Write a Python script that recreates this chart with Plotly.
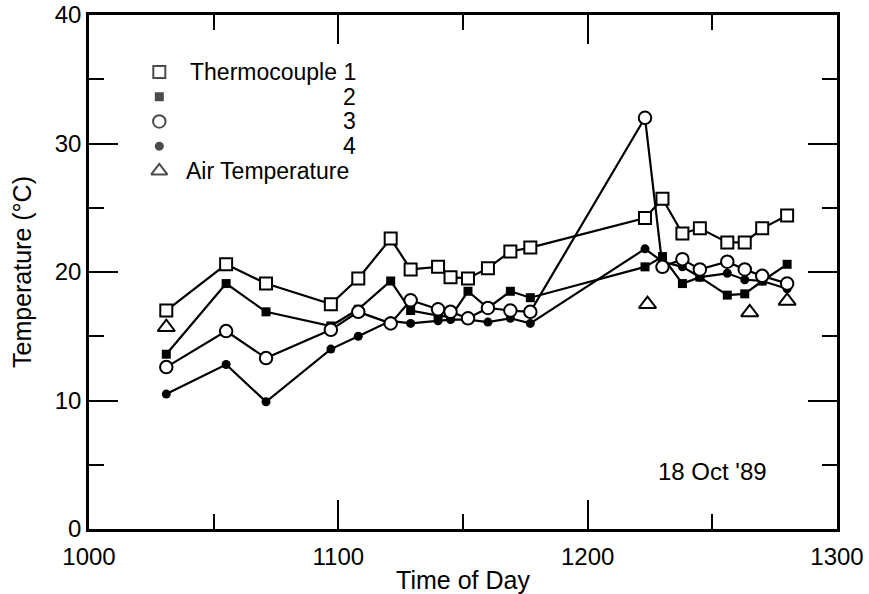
import plotly.graph_objects as go

# Sampling times (hhmm) and temperatures (°C)
times = [1031, 1055, 1071, 1097, 1108, 1121, 1129, 1140, 1145, 1152, 1160, 1169, 1177,
         1223, 1230, 1238, 1245, 1256, 1263, 1270, 1280]
tc1 = [17.0, 20.6, 19.1, 17.5, 19.5, 22.6, 20.2, 20.4, 19.6, 19.5, 20.3, 21.6, 21.9,
       24.2, 25.7, 23.0, 23.4, 22.3, 22.3, 23.4, 24.4]
tc2 = [13.6, 19.1, 16.9, 15.8, 17.1, 19.3, 17.0, 16.6, 16.5, 18.5, 17.2, 18.5, 18.0,
       20.4, 21.2, 19.1, 19.6, 18.2, 18.3, 19.3, 20.6]
tc3 = [12.6, 15.4, 13.3, 15.5, 16.9, 16.0, 17.8, 17.1, 16.9, 16.4, 17.2, 17.0, 16.9,
       32.0, 20.4, 21.0, 20.2, 20.8, 20.2, 19.7, 19.1]
tc4 = [10.5, 12.8, 9.9, 14.0, 15.0, 16.2, 16.0, 16.2, 16.3, 16.3, 16.1, 16.4, 16.0,
       21.8, 20.8, 20.4, 19.6, 19.9, 19.4, 19.3, 18.7]
air_times = [1031, 1224, 1265, 1280]
air_temp = [15.7, 17.5, 16.85, 17.75]

legend_labels = ["Thermocouple 1", "2", "3", "4", "Air Temperature"]
x_ticks = [1000, 1100, 1200, 1300]
y_ticks = [0, 10, 20, 30, 40]

FONT = "Liberation Sans, Arial, Helvetica, sans-serif"
BLACK = "black"
TXT = 24
KEY_TXT = 23
TITLE = 25

open_sq = dict(symbol="square", size=12, color="white", line=dict(color=BLACK, width=2))
fill_sq = dict(symbol="square", size=9, color=BLACK, line=dict(color=BLACK, width=0))
open_ci = dict(symbol="circle", size=12.5, color="white", line=dict(color=BLACK, width=2))
fill_ci = dict(symbol="circle", size=9, color=BLACK, line=dict(color=BLACK, width=0))
open_tri = dict(symbol="triangle-up", size=15, color="white", line=dict(color=BLACK, width=2))

fig = go.Figure()

for vals, mk in [(tc4, fill_ci), (tc2, fill_sq), (tc3, open_ci), (tc1, open_sq)]:
    fig.add_trace(go.Scatter(
        x=times, y=vals, mode="lines+markers",
        line=dict(color=BLACK, width=2.2),
        marker=mk, showlegend=False, cliponaxis=False,
    ))

fig.add_trace(go.Scatter(
    x=air_times, y=air_temp, mode="markers", marker=open_tri,
    showlegend=False, cliponaxis=False,
))

# Key symbols, placed in plot-area fractions on an overlay axis pair
key_x = 0.094
key_top, key_step = 0.8891, 0.0481
key_y = [key_top - i * key_step for i in range(len(legend_labels))]
keys = [open_sq, fill_sq, open_ci, fill_ci, open_tri]
fig.add_trace(go.Scatter(
    x=[key_x] * len(keys), y=key_y, mode="markers", xaxis="x2", yaxis="y2",
    marker=dict(
        symbol=[k["symbol"] for k in keys],
        size=[k["size"] - (1 if k["symbol"] == "triangle-up" else 0) for k in keys],
        color=[k["color"] for k in keys],
        line=dict(color=BLACK, width=[k["line"]["width"] for k in keys]),
    ),
    showlegend=False, hoverinfo="skip",
))

annotations = []
for i, lab in enumerate(legend_labels):
    last = i == len(legend_labels) - 1
    annotations.append(dict(
        x=0.127 if last else 0.3596, y=key_y[i], xref="paper", yref="paper",
        text=lab, showarrow=False, xanchor="left" if last else "right", yanchor="middle",
        font=dict(family=FONT, size=KEY_TXT, color=BLACK),
    ))

annotations.append(dict(x=1250, y=4.45, xref="x", yref="y", text="18 Oct '89",
                        showarrow=False, xanchor="center", yanchor="middle",
                        font=dict(family=FONT, size=TXT, color=BLACK)))

axis_common = dict(
    showline=True, linecolor=BLACK, linewidth=2.5, mirror="ticks",
    ticks="inside", ticklen=29, tickwidth=2, tickcolor=BLACK,
    showgrid=False, zeroline=False, automargin=False,
    tickfont=dict(family=FONT, size=TXT, color=BLACK),
)

fig.update_layout(
    width=869, height=594,
    margin=dict(l=89, r=32, t=15, b=65),
    paper_bgcolor="white", plot_bgcolor="white",
    font=dict(family=FONT, size=TXT, color=BLACK),
    xaxis=dict(
        range=[1000, 1300], tickvals=x_ticks, ticktext=[str(v) for v in x_ticks],
        minor=dict(dtick=50, tick0=1000, ticks="inside", ticklen=15, tickwidth=2, tickcolor=BLACK),
        title=dict(text="Time of Day", font=dict(family=FONT, size=TITLE, color=BLACK), standoff=3),
        ticklabelstandoff=4,
        **axis_common,
    ),
    yaxis=dict(
        range=[0, 40], tickvals=y_ticks, ticktext=[str(v) for v in y_ticks],
        minor=dict(dtick=5, tick0=0, ticks="inside", ticklen=15, tickwidth=2, tickcolor=BLACK),
        title=dict(text="Temperature (°C)", font=dict(family=FONT, size=TITLE, color=BLACK), standoff=16),
        **axis_common,
    ),
    xaxis2=dict(overlaying="x", anchor="y2", range=[0, 1], visible=False, fixedrange=True),
    yaxis2=dict(overlaying="y", anchor="x2", range=[0, 1], visible=False, fixedrange=True),
    annotations=annotations,
    showlegend=False,
)

fig.write_html("out.html")
